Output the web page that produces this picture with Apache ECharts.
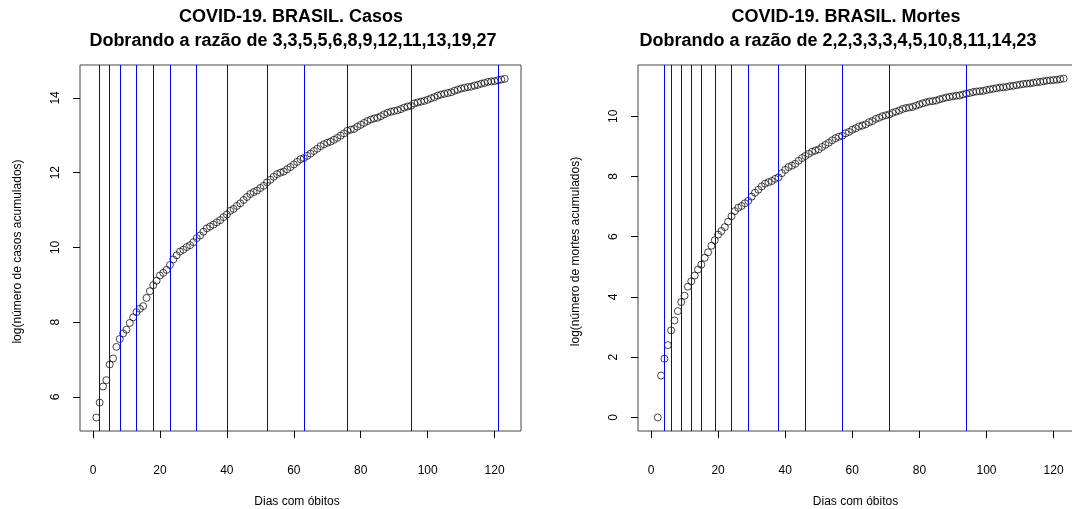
<!DOCTYPE html>
<html>
<head>
<meta charset="utf-8">
<script src="https://cdn.jsdelivr.net/npm/echarts@6/dist/echarts.min.js"></script>
<style>
  html, body { margin: 0; padding: 0; background: #fff; }
  #chart { width: 1072px; height: 509px; }
</style>
</head>
<body>
<div id="chart"></div>
<script>
// Day index since the first recorded death (1..123)
const days = Array.from({ length: 123 }, (_, i) => i + 1);

// log of cumulative confirmed cases, Brazil
const casesLog = [
  5.45, 5.85, 6.28, 6.45, 6.87, 7.03, 7.34, 7.55, 7.70, 7.80,
  7.98, 8.13, 8.27, 8.36, 8.43, 8.65, 8.83, 8.99, 9.11, 9.25,
  9.32, 9.40, 9.53, 9.68, 9.79, 9.89, 9.94, 10.01, 10.06, 10.14,
  10.25, 10.32, 10.42, 10.51, 10.56, 10.61, 10.67, 10.73, 10.81, 10.88,
  10.98, 11.03, 11.11, 11.18, 11.27, 11.35, 11.43, 11.48, 11.52, 11.59,
  11.65, 11.74, 11.81, 11.89, 11.96, 12.00, 12.03, 12.09, 12.15, 12.22,
  12.29, 12.36, 12.39, 12.45, 12.51, 12.58, 12.64, 12.71, 12.76, 12.80,
  12.83, 12.88, 12.93, 12.99, 13.05, 13.12, 13.15, 13.17, 13.23, 13.28,
  13.33, 13.38, 13.42, 13.45, 13.47, 13.51, 13.56, 13.60, 13.63, 13.65,
  13.67, 13.70, 13.74, 13.77, 13.79, 13.85, 13.88, 13.90, 13.92, 13.95,
  13.99, 14.02, 14.06, 14.09, 14.11, 14.13, 14.15, 14.19, 14.22, 14.25,
  14.27, 14.29, 14.30, 14.33, 14.35, 14.38, 14.40, 14.43, 14.44, 14.45,
  14.47, 14.49, 14.51
];

// log of cumulative deaths, Brazil (day 1 had no deaths, so no point)
const deathsLog = [
  null, 0.00, 1.39, 1.95, 2.40, 2.89, 3.22, 3.53, 3.83, 4.04,
  4.34, 4.52, 4.71, 4.91, 5.07, 5.30, 5.48, 5.70, 5.88, 6.07,
  6.19, 6.32, 6.50, 6.68, 6.85, 6.96, 7.02, 7.11, 7.19, 7.33,
  7.46, 7.56, 7.67, 7.76, 7.81, 7.85, 7.92, 7.97, 8.11, 8.22,
  8.31, 8.36, 8.42, 8.52, 8.61, 8.68, 8.75, 8.82, 8.86, 8.90,
  8.98, 9.05, 9.12, 9.20, 9.27, 9.32, 9.35, 9.43, 9.48, 9.55,
  9.60, 9.66, 9.69, 9.73, 9.80, 9.84, 9.91, 9.95, 10.00, 10.03,
  10.06, 10.11, 10.15, 10.19, 10.24, 10.27, 10.29, 10.31, 10.35, 10.39,
  10.43, 10.46, 10.49, 10.50, 10.52, 10.56, 10.59, 10.62, 10.64, 10.66,
  10.68, 10.69, 10.72, 10.75, 10.77, 10.80, 10.82, 10.83, 10.84, 10.87,
  10.89, 10.91, 10.93, 10.95, 10.96, 10.97, 11.00, 11.01, 11.03, 11.05,
  11.07, 11.08, 11.09, 11.11, 11.13, 11.14, 11.16, 11.18, 11.19, 11.20,
  11.21, 11.23, 11.25
];

// Days at which the cumulative count doubled
const casesDoubling = [2, 5, 8, 13, 18, 23, 31, 40, 52, 63, 76, 95, 121];
const deathsDoubling = [4, 6, 9, 12, 15, 19, 24, 29, 38, 46, 57, 71, 94];

// Tick labels
const xTicks = [0, 20, 40, 60, 80, 100, 120];
const casesYTicks = [6, 8, 10, 12, 14];
const deathsYTicks = [0, 2, 4, 6, 8, 10];

const titleCases = ['COVID-19. BRASIL. Casos', 'Dobrando a razão de 3,3,5,5,6,8,9,12,11,13,19,27'];
const titleDeaths = ['COVID-19. BRASIL. Mortes', 'Dobrando a razão de 2,2,3,3,3,4,5,10,8,11,14,23'];
const xName = 'Dias com óbitos';
const yNameCases = 'log(número de casos acumulados)';
const yNameDeaths = 'log(número de mortes acumulados)';

const FONT = '"Liberation Sans", Arial, Helvetica, sans-serif';

// Plot boxes (pixels) and axis ranges
const TICK = 7;
const panels = [
  { left: 80, top: 65, width: 441, height: 366, xMin: -3.88, xMax: 127.88, yMin: 5.09, yMax: 14.88 },
  { left: 638, top: 65, width: 442, height: 366, xMin: -3.88, xMax: 127.88, yMin: -0.45, yMax: 11.70 }
];

function toPoints(vals) {
  const pts = [];
  vals.forEach((v, i) => { if (v !== null) pts.push([days[i], v]); });
  return pts;
}

// Range of an axis stretched by the tick length on its low side,
// so the outer grid keeps the same scale as the plot box.
function stretchedMin(min, max, px) { return min - TICK * (max - min) / px; }

const grids = [];
const xAxes = [];
const yAxes = [];
const P = panels.length;

// Inner grids: the plot boxes that hold the data
panels.forEach((p, i) => {
  grids.push({ left: p.left, top: p.top, width: p.width, height: p.height,
    show: true, borderColor: '#444', borderWidth: 1, backgroundColor: 'transparent',
    containLabel: false, outerBoundsMode: 'none' });
  xAxes.push({ type: 'value', gridIndex: i, min: p.xMin, max: p.xMax, show: false });
  yAxes.push({ type: 'value', gridIndex: i, min: p.yMin, max: p.yMax, show: false });
});

// Outer grids: the boxes grown by the tick length to the left and below;
// they carry the ticks, tick labels and axis titles
panels.forEach((p, i) => {
  grids.push({ left: p.left - TICK, top: p.top, width: p.width + TICK, height: p.height + TICK,
    show: false, containLabel: false, outerBoundsMode: 'none' });
});

const yNames = [yNameCases, yNameDeaths];
const yTickSets = [casesYTicks, deathsYTicks];

// Labelled axes of the outer grids (indices P..2P-1)
panels.forEach((p, i) => {
  const g = P + i;
  xAxes.push({
    type: 'value', gridIndex: g,
    min: stretchedMin(p.xMin, p.xMax, p.width), max: p.xMax,
    name: xName, nameLocation: 'middle', nameGap: 58, nameMoveOverlap: false,
    nameTextStyle: { fontFamily: FONT, fontSize: 12, color: '#000' },
    axisLine: { show: false, onZero: true, onZeroAxisIndex: 2 * P + i },
    axisTick: { show: true, inside: false, length: TICK, customValues: xTicks, lineStyle: { color: '#000', width: 1 } },
    axisLabel: { customValues: xTicks, fontFamily: FONT, fontSize: 12, color: '#000', margin: 27 },
    splitLine: { show: false }
  });
  yAxes.push({
    type: 'value', gridIndex: g,
    min: stretchedMin(p.yMin, p.yMax, p.height), max: p.yMax,
    name: yNames[i], nameLocation: 'middle', nameGap: 49, nameMoveOverlap: false,
    nameTextStyle: { fontFamily: FONT, fontSize: 12, color: '#000' },
    axisLine: { show: false, onZero: true, onZeroAxisIndex: 2 * P + i },
    axisTick: { show: true, inside: false, length: TICK, customValues: yTickSets[i], lineStyle: { color: '#000', width: 1 } },
    axisLabel: { customValues: yTickSets[i], rotate: 90, fontFamily: FONT, fontSize: 12, color: '#000', margin: 11 },
    splitLine: { show: false }
  });
});

// Pixel-unit helper axes of the outer grids (indices 2P..3P-1):
// their zero sits on the plot box edge, where the ticks attach
panels.forEach((p, i) => {
  const g = P + i;
  xAxes.push({ type: 'value', gridIndex: g, min: -TICK, max: p.width, show: false,
    axisLine: { onZero: false } });
  yAxes.push({ type: 'value', gridIndex: g, min: -TICK, max: p.height, show: false,
    axisLine: { onZero: false } });
});

function scatterFor(idx, vals, lines) {
  return {
    type: 'scatter', xAxisIndex: idx, yAxisIndex: idx,
    data: toPoints(vals),
    symbol: 'circle', symbolSize: 7,
    itemStyle: { color: 'rgba(0,0,0,0)', borderColor: '#000', borderWidth: 0.9 },
    silent: true, animation: false,
    markLine: {
      silent: true, symbol: ['none', 'none'], animation: false,
      label: { show: false },
      lineStyle: { color: '#0000ff', width: 1, type: 'solid' },
      data: lines.map(d => ({ xAxis: d }))
    }
  };
}

function titleLine(text, cx, cy) {
  return {
    text, left: cx, top: cy - 11, textAlign: 'center', padding: 0,
    textStyle: { fontFamily: FONT, fontSize: 18, fontWeight: 'bold', color: '#000', lineHeight: 22 }
  };
}

const chart = echarts.init(document.getElementById('chart'), null, { renderer: 'canvas' });
chart.setOption({
  backgroundColor: '#ffffff',
  animation: false,
  title: [
    titleLine(titleCases[0], 291, 17),
    titleLine(titleCases[1], 293, 41),
    titleLine(titleDeaths[0], 846, 17),
    titleLine(titleDeaths[1], 838, 41)
  ],
  grid: grids,
  xAxis: xAxes,
  yAxis: yAxes,
  series: [
    scatterFor(0, casesLog, casesDoubling),
    scatterFor(1, deathsLog, deathsDoubling)
  ]
});
</script>
</body>
</html>
